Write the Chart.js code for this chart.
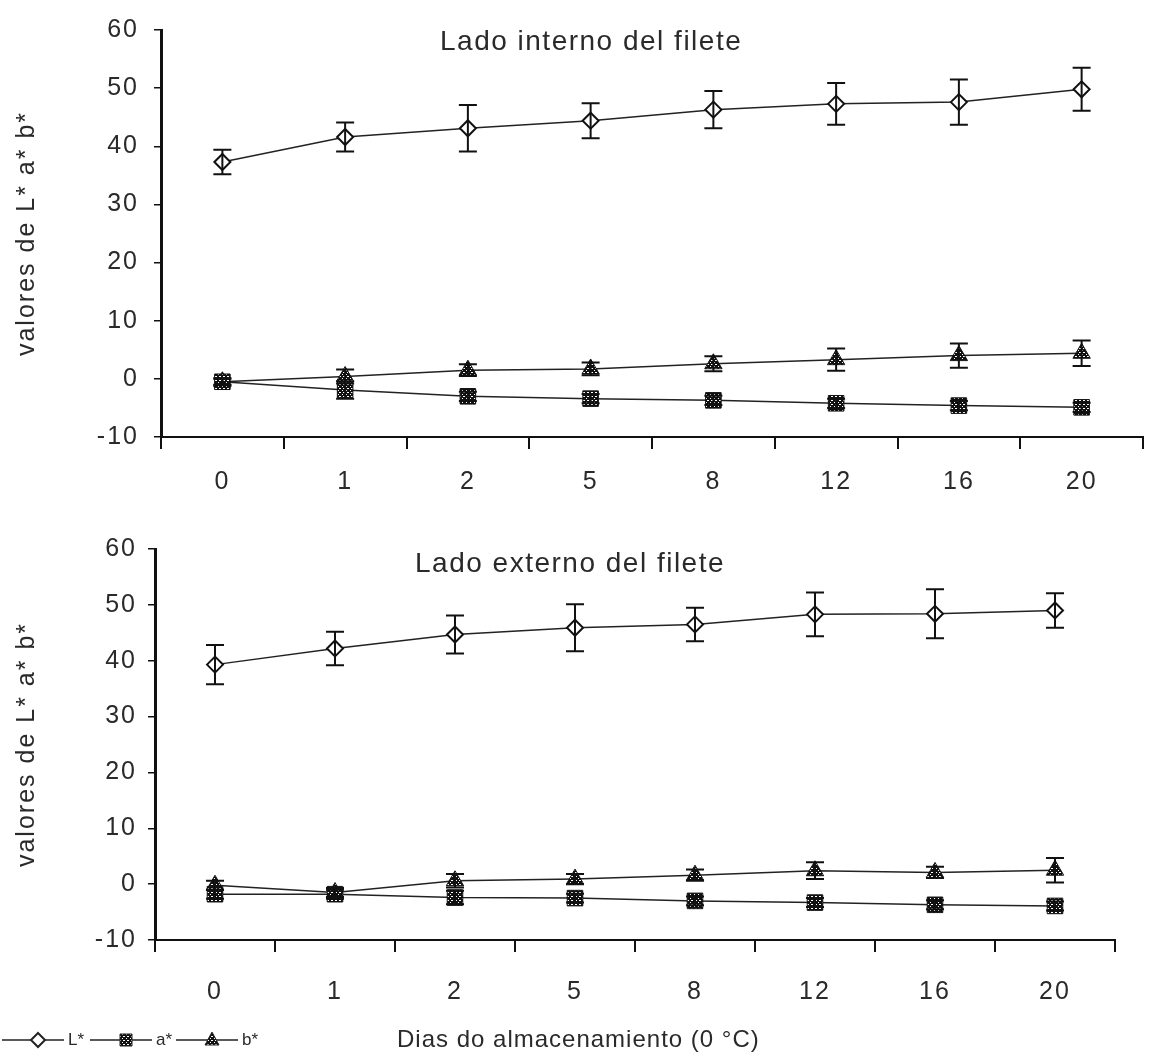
<!DOCTYPE html>
<html>
<head>
<meta charset="utf-8">
<script src="https://cdn.jsdelivr.net/npm/chart.js@4.4.1/dist/chart.umd.min.js"></script>
<style>
body{margin:0;background:#fff;}
#wrap{position:relative;width:1155px;height:1061px;background:#fff;}
#chartTop{position:absolute;left:0;top:0;}
#chartBottom{position:absolute;left:0;top:500px;}
</style>
</head>
<body>
<div id="wrap">
<canvas id="chartTop" width="1155" height="500"></canvas>
<canvas id="chartBottom" width="1155" height="561"></canvas>
</div>
<script>
// dias de almacenamiento (categorias del eje x)
const days = ["0", "1", "2", "5", "8", "12", "16", "20"];
const seriesNames = ["L*", "a*", "b*"];

// Lado interno del filete
const intL = [37.3, 41.6, 43.1, 44.4, 46.3, 47.3, 47.6, 49.8];
const intLErr = [2.1, 2.5, 4.0, 3.0, 3.2, 3.6, 3.9, 3.7];
const intA = [-0.5, -1.9, -3.0, -3.4, -3.7, -4.2, -4.6, -4.9];
const intAErr = [0.6, 1.5, 0.8, 0.8, 0.8, 0.8, 0.8, 0.8];
const intB = [-0.5, 0.4, 1.5, 1.7, 2.6, 3.3, 4.0, 4.4];
const intBErr = [0.5, 1.2, 1.0, 1.1, 1.3, 1.9, 2.1, 2.2];

// Lado externo del filete
const extL = [39.3, 42.2, 44.7, 45.9, 46.5, 48.3, 48.4, 49.0];
const extLErr = [3.5, 3.0, 3.4, 4.2, 3.0, 3.9, 4.4, 3.1];
const extA = [-1.8, -1.8, -2.4, -2.5, -3.0, -3.3, -3.7, -3.9];
const extAErr = [0.8, 0.8, 1.2, 0.8, 0.8, 0.8, 0.8, 0.8];
const extB = [-0.2, -1.5, 0.6, 0.9, 1.6, 2.4, 2.1, 2.5];
const extBErr = [0.8, 0.8, 1.2, 0.9, 1.0, 1.5, 1.0, 2.2];

let fontFam = "'Liberation Sans', Arial, sans-serif";
let ink = "#2a2a2a";

function makeHatch() {
    let c = document.createElement("canvas");
    c.width = 4;
    c.height = 4;
    let g = c.getContext("2d");
    g.fillStyle = "#111";
    g.fillRect(0, 0, 4, 4);
    g.fillStyle = "#fff";
    g.fillRect(0, 0, 1, 1);
    g.fillRect(2, 2, 1, 1);
    g.fillRect(3, 0, 1, 1);
    return g.createPattern(c, "repeat");
}
let hatch = makeHatch();

// letra espaciada como en el original
let spacing = {
    id: "spacing",
    beforeDraw(chart) {
        chart.ctx.letterSpacing = "2px";
    }
};

// barras de error
let errorBars = {
    id: "errorBars",
    afterDatasetsDraw(chart) {
        let ctx = chart.ctx;
        let yScale = chart.scales.y;
        ctx.save();
        ctx.strokeStyle = "#111";
        ctx.lineWidth = 2;
        chart.data.datasets.forEach(function (ds, i) {
            let meta = chart.getDatasetMeta(i);
            ds.errors.forEach(function (e, j) {
                let pt = meta.data[j];
                let yT = yScale.getPixelForValue(ds.data[j] + e);
                let yB = yScale.getPixelForValue(ds.data[j] - e);
                ctx.beginPath();
                ctx.moveTo(pt.x, yT);
                ctx.lineTo(pt.x, yB);
                ctx.moveTo(pt.x - 9, yT);
                ctx.lineTo(pt.x + 9, yT);
                ctx.moveTo(pt.x - 9, yB);
                ctx.lineTo(pt.x + 9, yB);
                ctx.stroke();
            });
        });
        ctx.restore();
    }
};

// titulo dentro del area del grafico
let panelTitle = {
    id: "panelTitle",
    afterDraw(chart, args, opts) {
        let ctx = chart.ctx;
        ctx.save();
        ctx.letterSpacing = "1.5px";
        ctx.font = "28px " + fontFam;
        ctx.fillStyle = ink;
        ctx.textAlign = "left";
        ctx.textBaseline = "alphabetic";
        ctx.fillText(opts.text, opts.x, opts.y);
        ctx.restore();
    }
};

function marker(ctx, style, x, y) {
    ctx.beginPath();
    if (style == "rectRot") {
        ctx.moveTo(x, y - 7); ctx.lineTo(x + 7, y); ctx.lineTo(x, y + 7); ctx.lineTo(x - 7, y);
        ctx.closePath();
        ctx.fillStyle = "#fff";
        ctx.fill();
        ctx.lineWidth = 2;
        ctx.stroke();
    } else if (style == "rect") {
        ctx.rect(x - 6, y - 6, 12, 12);
        ctx.fillStyle = hatch;
        ctx.fill();
        ctx.lineWidth = 1;
        ctx.stroke();
    } else {
        ctx.moveTo(x, y - 8); ctx.lineTo(x + 7, y + 5); ctx.lineTo(x - 7, y + 5);
        ctx.closePath();
        ctx.fillStyle = hatch;
        ctx.fill();
        ctx.lineWidth = 1;
        ctx.stroke();
    }
}

// leyenda y titulo del eje x, abajo
let footer = {
    id: "footer",
    afterDraw(chart, args, opts) {
        let ctx = chart.ctx;
        let y = opts.y;
        let styles = ["rectRot", "rect", "triangle"];
        let starts = [2, 90, 176];
        ctx.save();
        ctx.letterSpacing = "0px";
        ctx.strokeStyle = "#222";
        for (let i = 0; i < 3; i++) {
            let x0 = starts[i];
            ctx.lineWidth = 1.5;
            ctx.beginPath();
            ctx.moveTo(x0, y);
            ctx.lineTo(x0 + 62, y);
            ctx.stroke();
            marker(ctx, styles[i], x0 + 36, y);
            ctx.fillStyle = ink;
            ctx.font = "17px " + fontFam;
            ctx.textBaseline = "middle";
            ctx.fillText(seriesNames[i], x0 + 66, y);
        }
        ctx.letterSpacing = "1px";
        ctx.font = "24px " + fontFam;
        ctx.textBaseline = "middle";
        ctx.fillStyle = ink;
        ctx.fillText("Dias do almacenamiento (0 °C)", opts.titleX, y);
        ctx.restore();
    }
};

function drawPanel(canvas, title, L, eL, a, ea, b, eb, lay) {
    let plugins = [spacing, errorBars, panelTitle];
    if (lay.footer) plugins.push(footer);

    new Chart(canvas, {
        type: "line",
        data: {
            labels: days,
            datasets: [
                {
                    label: seriesNames[0], data: L, errors: eL,
                    borderColor: "#222", borderWidth: 1.5, tension: 0,
                    pointStyle: "rectRot", pointRadius: 8,
                    pointBackgroundColor: "#fff", pointBorderColor: "#111", pointBorderWidth: 2
                },
                {
                    label: seriesNames[1], data: a, errors: ea,
                    borderColor: "#222", borderWidth: 1.5, tension: 0,
                    pointStyle: "rect", pointRadius: 11,
                    pointBackgroundColor: hatch, pointBorderColor: "#111", pointBorderWidth: 1
                },
                {
                    label: seriesNames[2], data: b, errors: eb,
                    borderColor: "#222", borderWidth: 1.5, tension: 0,
                    pointStyle: "triangle", pointRadius: 10,
                    pointBackgroundColor: hatch, pointBorderColor: "#111", pointBorderWidth: 1
                }
            ]
        },
        options: {
            responsive: false,
            animation: false,
            layout: { padding: lay.padding },
            plugins: {
                legend: { display: false },
                tooltip: { enabled: false },
                panelTitle: { text: title, x: lay.titleX, y: lay.titleY },
                footer: { y: 540, titleX: 397 }
            },
            scales: {
                x: {
                    offset: true,
                    grid: { offset: true, drawOnChartArea: false, drawTicks: true, tickLength: 12, color: "#111", lineWidth: 2 },
                    border: { display: true, color: "#111", width: 2 },
                    ticks: { font: { family: fontFam, size: 25 }, color: ink, padding: lay.xPad },
                    afterFit: function (s) { s.height = lay.xHeight; }
                },
                y: {
                    min: -10,
                    max: 60,
                    ticks: { stepSize: 10, font: { family: fontFam, size: 25 }, color: ink, padding: lay.yPad },
                    grid: { drawOnChartArea: false, drawTicks: true, tickLength: 7, color: "#111", lineWidth: 1.5 },
                    border: { display: true, color: "#111", width: 3 },
                    title: {
                        display: true,
                        text: "valores de L* a* b*",
                        font: { family: fontFam, size: 25 },
                        color: ink,
                        padding: { top: 12, bottom: 0 }
                    },
                    afterFit: function (s) { s.width = lay.yWidth; }
                }
            }
        },
        plugins: plugins
    });
}

drawPanel(document.getElementById("chartTop"), "Lado interno del filete",
    intL, intLErr, intA, intAErr, intB, intBErr,
    { padding: { top: 23, right: 2, bottom: 0, left: 0 }, yWidth: 161, xHeight: 63, xPad: 18, yPad: 15, titleX: 440, titleY: 50, footer: false });

drawPanel(document.getElementById("chartBottom"), "Lado externo del filete",
    extL, extLErr, extA, extAErr, extB, extBErr,
    { padding: { top: 49, right: 40, bottom: 61, left: 0 }, yWidth: 155, xHeight: 60, xPad: 25, yPad: 11, titleX: 415, titleY: 72, footer: true });
</script>
</body>
</html>
